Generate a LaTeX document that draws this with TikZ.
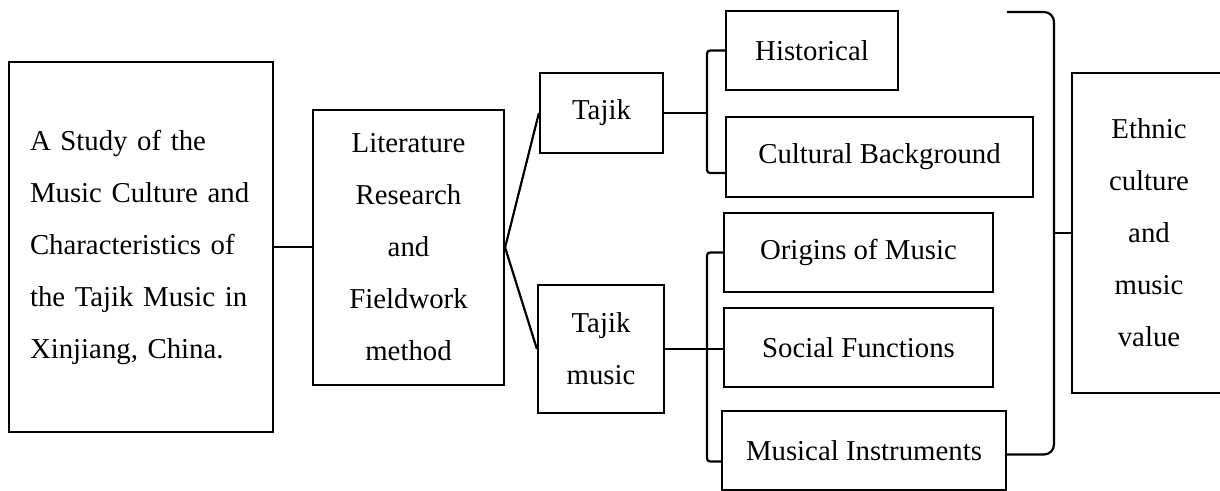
\documentclass[tikz,border=0pt]{standalone}
\usepackage{fontspec}
\setmainfont{Liberation Serif}
\usepackage{tikz}
\usetikzlibrary{calc}

\begin{document}
\begin{tikzpicture}[x=0.5pt, y=-0.5pt, line width=1.1pt,
    box/.style={draw, inner sep=0pt, align=center, font=\fontsize{14.4}{26}\selectfont},
    brk/.style={rounded corners=1.5pt}]
  \useasboundingbox (0,0) rectangle (1220,491);

  % Topic and method
  \node[box, minimum width=132pt, minimum height=185pt, text width=111pt, align=left] (study) at (141,247)
    {A Study of the\\ Music Culture and\\ Characteristics of\\ the Tajik Music in\\ Xinjiang, China.};
  \node[box, minimum width=95.5pt, minimum height=137.5pt] (method) at (408.5,247.5)
    {Literature\\ Research\\ and\\ Fieldwork\\ method};

  % Two branches
  \node[box, minimum width=61.5pt, minimum height=40pt] (tajik) at (601.5,113) {Tajik};
  \node[box, minimum width=63pt, minimum height=64pt] (tajikmusic) at (601,349) {Tajik\\ music};

  % Leaves
  \node[box, minimum width=86pt, minimum height=39.5pt] (hist) at (812,50.5) {Historical};
  \node[box, minimum width=153.5pt, minimum height=40pt] (cult) at (879.5,157) {Cultural Background};
  \node[box, minimum width=134.5pt, minimum height=39.5pt] (orig) at (858.5,252.5) {Origins of Music};
  \node[box, minimum width=134.5pt, minimum height=39.5pt] (social) at (858.5,347.5) {Social Functions};
  \node[box, minimum width=142pt, minimum height=39.5pt] (instr) at (864,450.5) {Musical Instruments};

  % Result
  \node[box, minimum width=77pt, minimum height=160pt] (ethnic) at (1149,233)
    {Ethnic\\ culture\\ and\\ music\\ value};

  % Connections
  \draw (study.east) -- (study.east -| method.west);
  \draw (tajik.west) -- (method.east) -- (tajikmusic.west);

  \coordinate (topspine) at (707,113);
  \draw (tajik.east) -- (topspine);
  \draw[brk] (hist.west) -| (topspine) |- ($(cult.west)+(0,16)$);

  \coordinate (botspine) at (707,349);
  \draw (tajikmusic.east) -- (tajikmusic.east -| social.west);
  \draw[brk] (orig.west) -| (botspine) |- ($(instr.west)+(0,11)$);

  % Big bracket to the result
  \coordinate (bracetop) at (1007,12);
  \coordinate (bracemid) at (1054,233);
  \draw[rounded corners=5pt] (bracetop) -| (bracemid) |- ($(instr.east)+(0,4)$);
  \draw (bracemid) -- (ethnic.west);
\end{tikzpicture}
\end{document}
